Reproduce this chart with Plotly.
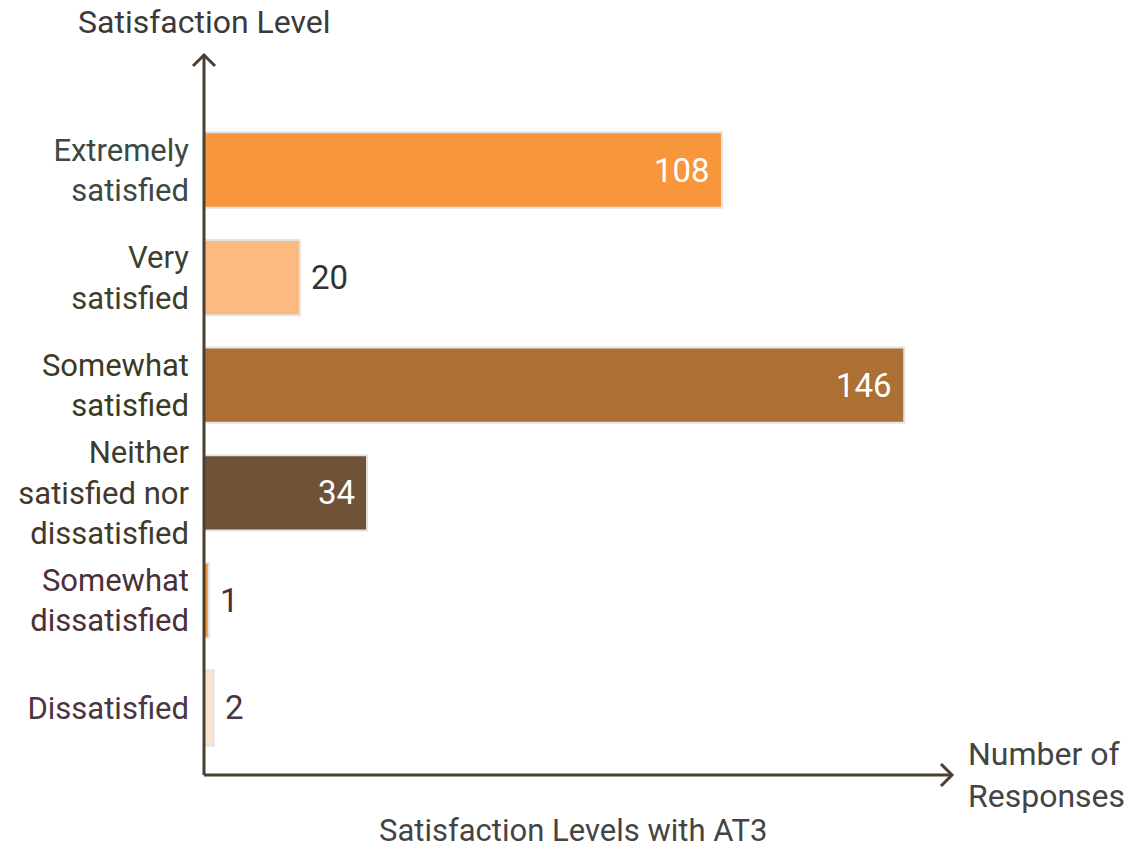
import plotly.graph_objects as go

categories = ["Extremely satisfied", "Very satisfied", "Somewhat satisfied",
              "Neither satisfied nor dissatisfied", "Somewhat dissatisfied", "Dissatisfied"]
tick_labels = ["Extremely<br>satisfied", "Very<br>satisfied", "Somewhat<br>satisfied",
               "Neither<br>satisfied nor<br>dissatisfied", "Somewhat<br>dissatisfied", "Dissatisfied"]
values = [108, 20, 146, 34, 1, 2]
bar_colors = ["#F7963A", "#FBBB80", "#AC6F34", "#6F5238", "#F29A3A", "#FCE3CC"]
label_colors = ["#3c4842", "#3d3f2e", "#3b3a22", "#3f392e", "#4b2f38", "#4a3540"]
value_inside = [True, False, True, True, False, False]
value_colors = ["#ffffff", "#333333", "#ffffff", "#ffffff", "#4b2f38", "#4a3540"]

AXIS_COLOR = "#4a3f33"
FONT = "Roboto"

fig = go.Figure()
fig.add_trace(go.Bar(
    x=values, y=categories, orientation="h",
    marker=dict(color=bar_colors, line=dict(color="#e4e4e4", width=2)),
    width=0.7, hoverinfo="x+y",
))

annotations = []
for cat, v, inside, col in zip(categories, values, value_inside, value_colors):
    annotations.append(dict(
        x=v, y=cat, xref="x", yref="y", text=str(v), showarrow=False,
        xanchor="right" if inside else "left", xshift=-10 if inside else 9,
        font=dict(family=FONT, size=33, color=col),
    ))

annotations += [
    dict(x=0, y=1 + 33 / 720, xref="paper", yref="paper", text="Satisfaction Level",
         showarrow=False, xanchor="center", yanchor="middle",
         font=dict(family=FONT, size=32, color="#3a3a3a")),
    dict(x=1.0, y=0, xref="paper", yref="paper", text="Number of<br>Responses",
         showarrow=False, xanchor="left", yanchor="middle", xshift=14, align="left",
         font=dict(family=FONT, size=32, color="#444444")),
    dict(x=(573 - 204) / 748, y=-55 / 720, xref="paper", yref="paper",
         text="Satisfaction Levels with AT3",
         showarrow=False, xanchor="center", yanchor="middle", borderpad=0,
         font=dict(family=FONT, size=31, color="#444444")),
]

dx = 11 / 748
dy = 11 / 720
shapes = [
    dict(type="line", xref="paper", yref="paper", x0=0, y0=0, x1=0, y1=1,
         line=dict(color=AXIS_COLOR, width=3)),
    dict(type="line", xref="paper", yref="paper", x0=0, y0=0, x1=1, y1=0,
         line=dict(color=AXIS_COLOR, width=3)),
    dict(type="path", xref="paper", yref="paper",
         path=f"M {-dx} {1-dy} L 0 1 L {dx} {1-dy}",
         line=dict(color=AXIS_COLOR, width=3)),
    dict(type="path", xref="paper", yref="paper",
         path=f"M {1-dx} {dy} L 1 0 L {1-dx} {-dy}",
         line=dict(color=AXIS_COLOR, width=3)),
]

ticktext = [f'<span style="color:{c}">{t}</span>' for t, c in zip(tick_labels, label_colors)]

fig.update_layout(
    width=1133, height=850,
    margin=dict(l=204, r=181, t=55, b=75),
    paper_bgcolor="white", plot_bgcolor="white",
    showlegend=False,
    bargap=0.3,
    xaxis=dict(range=[0, 748 / 4.796], showgrid=False, zeroline=False,
               showticklabels=False, showline=False, ticks=""),
    yaxis=dict(type="category", categoryorder="array", categoryarray=categories,
               range=[5.623, -1.069], showgrid=False, zeroline=False, showline=False,
               tickmode="array", tickvals=categories, ticktext=ticktext,
               ticks="", ticklabelstandoff=14,
               tickfont=dict(family=FONT, size=31, color="#3c4842")),
    shapes=shapes,
    annotations=annotations,
    font=dict(family=FONT),
)

fig.write_html("out.html")
